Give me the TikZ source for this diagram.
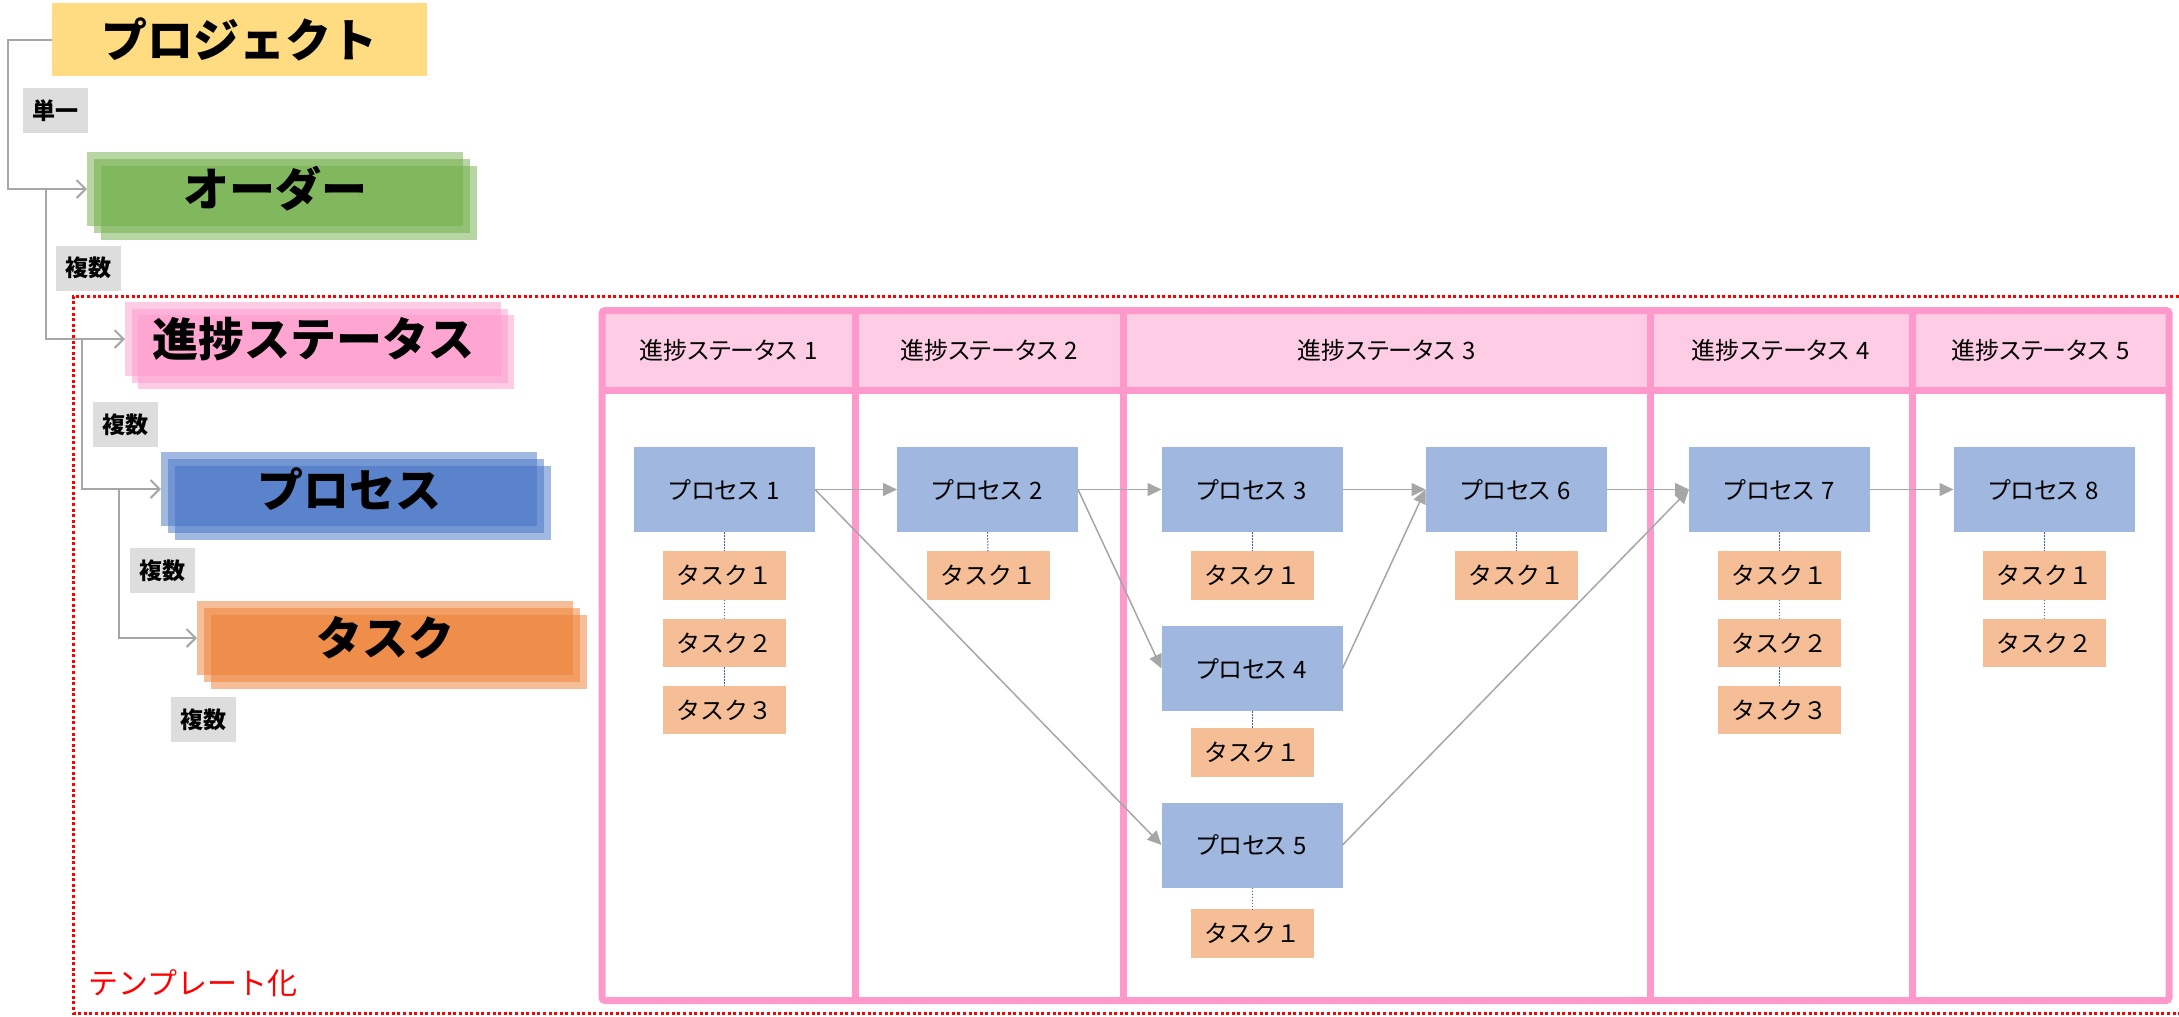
\documentclass[tikz,border=0pt]{standalone}
\usepackage{fontspec}
\setmainfont{Noto Sans CJK JP}
\newfontfamily\jpp{Noto Sans CJK JP}[RawFeature=+palt]
\usetikzlibrary{arrows.meta}
\definecolor{projC}{HTML}{FFDC82}
\definecolor{ordC}{HTML}{70AD47}
\definecolor{stC}{HTML}{FF99CC}
\definecolor{prC}{HTML}{4472C4}
\definecolor{tkC}{HTML}{ED7D31}
\definecolor{procC}{HTML}{A0B7E0}
\definecolor{taskC}{HTML}{F5BE96}
\definecolor{hdrC}{HTML}{FFCCE5}
\definecolor{tblC}{HTML}{FF99CC}
\definecolor{tagC}{HTML}{DDDDDD}
\definecolor{arrowC}{HTML}{A6A6A6}
\definecolor{dotC}{HTML}{3A5FA8}
\newcommand{\dg}[1]{\hspace{0.3em}#1}
\begin{document}
\begin{tikzpicture}[x=1pt,y=-1pt,
  proc/.style={fill=procC, minimum width=181pt, minimum height=85pt, inner sep=0pt, outer sep=0pt, font=\jpp\fontsize{24}{28}\selectfont},
  taskbox/.style={fill=taskC, minimum width=123pt, minimum height=48.5pt, inner sep=0pt, outer sep=0pt, font=\fontsize{24}{28}\selectfont},
  tag/.style={fill=tagC, minimum width=65pt, minimum height=45pt, inner sep=0pt, font=\bfseries\fontsize{23}{26}\selectfont},
  title/.style={inner sep=0pt, font=\bfseries\fontsize{46}{50}\selectfont},
  layer/.style={minimum width=376pt, minimum height=74pt, inner sep=0pt, outer sep=0pt, fill opacity=0.5, anchor=north west},
  hdrtext/.style={inner sep=0pt, font=\jpp\fontsize{24}{28}\selectfont},
  flow/.style={draw=arrowC, line width=1.5pt, -{Triangle[length=14pt,width=13pt]}},
  hier/.style={draw=arrowC, line width=2pt, -{Straight Barb[length=9pt,width=18pt]}},
  dotl/.style={draw=dotC, line width=1pt, dash pattern=on 1.5pt off 1.5pt},
  tbl/.style={draw=tblC, line width=7pt}
]
\useasboundingbox (0,0) rectangle (2179,1017);

% ---------- template frame ----------
\draw[red, line width=3pt, dash pattern=on 3pt off 2.6pt] (2190,296) -- (73,296) -- (73,1013) -- (2190,1013);
\node[red, inner sep=0pt, font=\fontsize{30}{32}\selectfont] (tmpl) at (193,983) {テンプレート化};

% ---------- left hierarchy ----------
\node[fill=projC, minimum width=375pt, minimum height=73pt, inner sep=0pt, outer sep=0pt, anchor=north west] (proj) at (52,3) {};
\node[title] (projt) at (proj.center) {プロジェクト};

\node[layer, fill=ordC] (ord3) at (101,166) {};
\node[layer, fill=ordC] (ord2) at (94,159) {};
\node[layer, fill=ordC] (ord) at (87,152) {};
\node[title] (ordt) at (ord.center) {オーダー};

\node[layer, fill=stC] (st3) at (138,315) {};
\node[layer, fill=stC] (st2) at (131.5,308.5) {};
\node[layer, fill=stC] (st) at (125,302) {};
\node[title] (stt) at (st.center) {進捗ステータス};

\node[layer, fill=prC] (pr3) at (175,466) {};
\node[layer, fill=prC] (pr2) at (168,459) {};
\node[layer, fill=prC] (pr) at (161,452) {};
\node[title] (prt) at (pr.center) {プロセス};

\node[layer, fill=tkC] (tk3) at (211,615) {};
\node[layer, fill=tkC] (tk2) at (204,608) {};
\node[layer, fill=tkC] (tk) at (197,601) {};
\node[title] (tkt) at (tk.center) {タスク};

\node[tag] (tag1) at (55.5,110.5) {単一};
\node[tag] (tag2) at (88.5,268) {複数};
\node[tag] (tag3) at (125.5,424.5) {複数};
\node[tag] (tag4) at (162.5,570.5) {複数};
\node[tag] (tag5) at (203,719.5) {複数};

\coordinate (cA) at (8.4,39.5);
\coordinate (cB) at (46,189);
\coordinate (cC) at (82,339);
\coordinate (cD) at (119,489);
\draw[hier] (proj.west) -- (cA) |- (ord.west);
\draw[hier] (cB) |- (st.west);
\draw[hier] (cC) |- (pr.west);
\draw[hier] (cD) |- (tk.west);

% ---------- table ----------
\fill[hdrC] (602,310.5) rectangle (2169,390.5);
\draw[tbl, rounded corners=3pt] (602,310.5) rectangle (2169,1000.5);
\draw[tbl] (602,390.5) -- (2169,390.5);
\draw[tbl] (855.5,310.5) -- (855.5,1000.5);
\draw[tbl] (1123,310.5) -- (1123,1000.5);
\draw[tbl] (1650,310.5) -- (1650,1000.5);
\draw[tbl] (1912.5,310.5) -- (1912.5,1000.5);

\node[hdrtext] (h1) at (728.75,350.5) {進捗ステータス\dg{1}};
\node[hdrtext] (h2) at (989.25,350.5) {進捗ステータス\dg{2}};
\node[hdrtext] (h3) at (1386.5,350.5) {進捗ステータス\dg{3}};
\node[hdrtext] (h4) at (1781,350.5) {進捗ステータス\dg{4}};
\node[hdrtext] (h5) at (2040.75,350.5) {進捗ステータス\dg{5}};

% ---------- processes ----------
\node[proc] (p1) at (724.5,489.5) {プロセス\dg{1}};
\node[proc] (p2) at (987.5,489.5) {プロセス\dg{2}};
\node[proc] (p3) at (1252,489.5) {プロセス\dg{3}};
\node[proc] (p4) at (1252,668.5) {プロセス\dg{4}};
\node[proc] (p5) at (1252,845) {プロセス\dg{5}};
\node[proc] (p6) at (1516,489.5) {プロセス\dg{6}};
\node[proc] (p7) at (1779.5,489.5) {プロセス\dg{7}};
\node[proc] (p8) at (2044,489.5) {プロセス\dg{8}};

% ---------- tasks ----------
\node[taskbox] (t11) at (724.5,575.5) {タスク１};
\node[taskbox] (t12) at (724.5,643) {タスク２};
\node[taskbox] (t13) at (724.5,710) {タスク３};
\node[taskbox] (t21) at (988,575.5) {タスク１};
\node[taskbox] (t31) at (1252,575.5) {タスク１};
\node[taskbox] (t41) at (1252,752.5) {タスク１};
\node[taskbox] (t51) at (1252,933.5) {タスク１};
\node[taskbox] (t61) at (1516,575.5) {タスク１};
\node[taskbox] (t71) at (1779.5,575.5) {タスク１};
\node[taskbox] (t72) at (1779.5,643) {タスク２};
\node[taskbox] (t73) at (1779.5,710) {タスク３};
\node[taskbox] (t81) at (2044,575.5) {タスク１};
\node[taskbox] (t82) at (2044,643) {タスク２};

\draw[dotl] (p1.south) -- (t11.north);
\draw[dotl] (t11.south) -- (t12.north);
\draw[dotl] (t12.south) -- (t13.north);
\draw[dotl] (p2.south) -- (t21.north);
\draw[dotl] (p3.south) -- (t31.north);
\draw[dotl] (p4.south) -- (t41.north);
\draw[dotl] (p5.south) -- (t51.north);
\draw[dotl] (p6.south) -- (t61.north);
\draw[dotl] (p7.south) -- (t71.north);
\draw[dotl] (t71.south) -- (t72.north);
\draw[dotl] (t72.south) -- (t73.north);
\draw[dotl] (p8.south) -- (t81.north);
\draw[dotl] (t81.south) -- (t82.north);

% ---------- flow arrows ----------
\draw[flow] (p1.east) -- (p2.west);
\draw[flow] (p1.east) -- (p5.west);
\draw[flow] (p2.east) -- (p3.west);
\draw[flow] (p2.east) -- (p4.west);
\draw[flow] (p3.east) -- (p6.west);
\draw[flow] (p4.east) -- (p6.west);
\draw[flow] (p6.east) -- (p7.west);
\draw[flow] (p5.east) -- (p7.west);
\draw[flow] (p7.east) -- (p8.west);
\end{tikzpicture}
\end{document}
